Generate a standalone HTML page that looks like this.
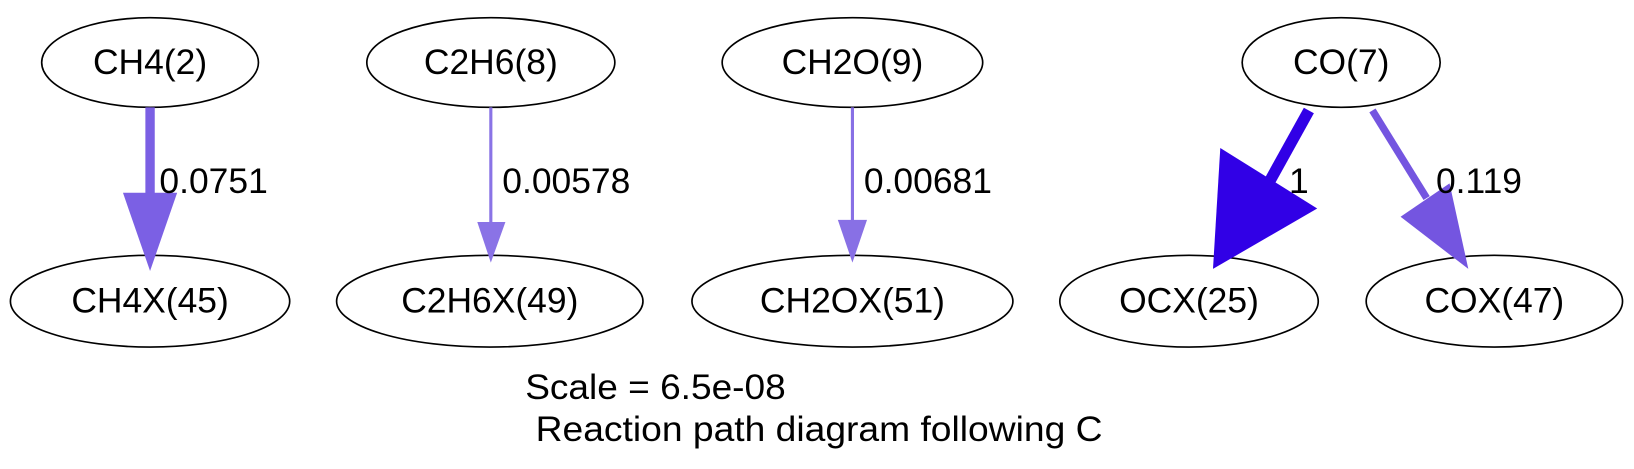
<!DOCTYPE html>
<html><head><meta charset="utf-8"><style>
html,body{margin:0;padding:0;background:#fff;}
svg{display:block;}
text{font-family:"Liberation Sans",Arial,sans-serif;font-size:34px;fill:#000;}
</style></head><body>
<svg width="1634" height="469" viewBox="0 0 1568 450" preserveAspectRatio="none" xmlns="http://www.w3.org/2000/svg">
<rect width="1568" height="450" fill="#fff"/>
<g fill="none" stroke="#000" stroke-width="1.6">
<ellipse cx="144" cy="60" rx="104" ry="43"/>
<ellipse cx="471" cy="60" rx="119" ry="43"/>
<ellipse cx="818" cy="60" rx="125" ry="43"/>
<ellipse cx="1287" cy="60" rx="95" ry="43"/>
<ellipse cx="144" cy="289" rx="134" ry="44"/>
<ellipse cx="470" cy="289" rx="147" ry="44"/>
<ellipse cx="818" cy="289" rx="154" ry="44"/>
<ellipse cx="1141" cy="289" rx="124" ry="44"/>
<ellipse cx="1434" cy="289" rx="123" ry="44"/>
</g>
<line x1="144" y1="103" x2="144" y2="190" stroke="#7b60e4" stroke-width="9"/>
<polygon points="118,185 170,185 144,260" fill="#7b60e4"/>
<line x1="471" y1="103" x2="471" y2="216" stroke="#8a73e6" stroke-width="3"/>
<polygon points="458,213 485,213 471,252" fill="#8a73e6"/>
<line x1="818" y1="103" x2="818" y2="214" stroke="#8870e5" stroke-width="3"/>
<polygon points="804,211 832,211 818,252" fill="#8870e5"/>
<line x1="1256" y1="106" x2="1215" y2="180" stroke="#3100e6" stroke-width="11"/>
<polygon points="1171,142 1264,200 1164,258" fill="#3100e6"/>
<line x1="1317" y1="106" x2="1369" y2="190" stroke="#7455e0" stroke-width="7"/>
<polygon points="1344,208 1391,176 1409,258" fill="#7455e0"/>
<g text-anchor="middle">
<text x="144" y="71">CH4(2)</text>
<text x="471" y="71">C2H6(8)</text>
<text x="818" y="71">CH2O(9)</text>
<text x="1287" y="71">CO(7)</text>
<text x="144" y="300">CH4X(45)</text>
<text x="470" y="300">C2H6X(49)</text>
<text x="818" y="300">CH2OX(51)</text>
<text x="1141" y="300">OCX(25)</text>
<text x="1434" y="300">COX(47)</text>
</g>
<text x="153" y="185">0.0751</text>
<text x="482" y="185">0.00578</text>
<text x="829" y="185">0.00681</text>
<text x="1237" y="185">1</text>
<text x="1378" y="185">0.119</text>
<text x="504" y="383" textLength="250" lengthAdjust="spacingAndGlyphs">Scale = 6.5e-08</text>
<text x="514" y="423" textLength="544" lengthAdjust="spacingAndGlyphs">Reaction path diagram following C</text>
</svg>
</body></html>
